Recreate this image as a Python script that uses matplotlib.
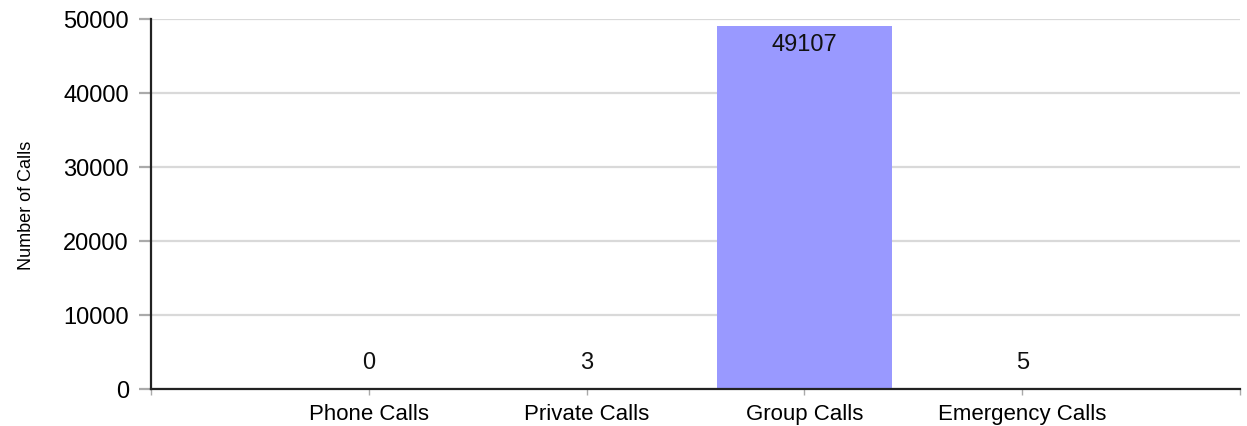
import matplotlib.pyplot as plt

categories = ['Phone Calls', 'Private Calls', 'Group Calls', 'Emergency Calls']
calls = [0, 3, 49107, 5]

plt.rcParams['font.family'] = ['Liberation Sans', 'DejaVu Sans']

fig = plt.figure(figsize=(12.47, 4.27), dpi=100)
ax = fig.add_axes([151 / 1247, 37 / 427, 1089 / 1247, 370 / 427])

pos = list(range(1, len(categories) + 1))
bars = ax.bar(pos, calls, width=0.8, color='#9999ff', zorder=2)

for x, v in zip(pos, calls):
    if v > 25000:
        ax.annotate(str(v), (x, v), xytext=(0, -13), textcoords='offset points',
                    ha='center', va='center', fontsize=17, color='#111111', zorder=3)
    else:
        ax.annotate(str(v), (x, v), xytext=(0, 19.5), textcoords='offset points',
                    ha='center', va='center', fontsize=17, color='#111111', zorder=3)

ax.set_xlim(0, len(categories) + 1)
ax.set_ylim(0, 50000)
ax.set_yticks(range(0, 50001, 10000))
ax.set_xticks(range(0, len(categories) + 2))
ax.set_xticklabels([''] + categories + [''])

ax.grid(axis='y', color='#d9d9d9', linewidth=1.6, zorder=0)
ax.tick_params(axis='y', length=9, width=1.6, color='#aaaaaa', pad=7, labelsize=17)
ax.tick_params(axis='x', length=4, width=1, color='#aaaaaa', pad=6, labelsize=16)

for side in ['top', 'right']:
    ax.spines[side].set_visible(False)
for side in ['left', 'bottom']:
    ax.spines[side].set_color('#222222')
    ax.spines[side].set_linewidth(1.6)
    ax.spines[side].set_zorder(4)

ax.set_ylabel('Number of Calls', fontsize=13, labelpad=20)

plt.savefig('out.png', dpi=100)
